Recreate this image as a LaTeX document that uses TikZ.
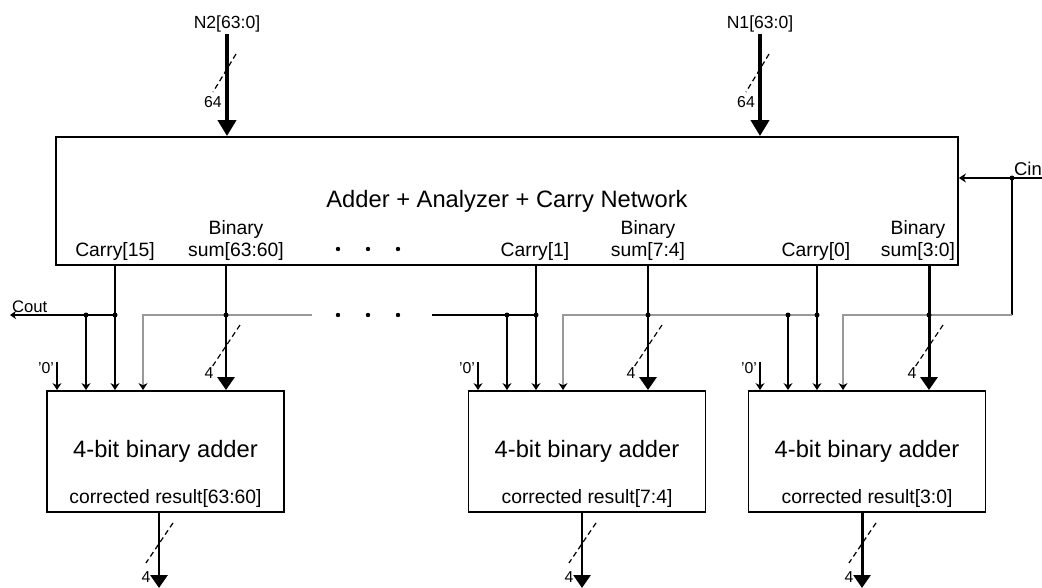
\documentclass[tikz,border=0pt]{standalone}
\usepackage{fontspec}
\setmainfont{Liberation Sans}
\usetikzlibrary{arrows.meta,calc,positioning}

\begin{document}
\begin{tikzpicture}[x=0.02cm,y=-0.02cm,
  unit/.style={draw,line width=1.1pt,minimum width=4.74cm,minimum height=2.42cm,inner sep=0pt,font=\fontsize{13.5}{15}\selectfont},
  arr/.style={-{Stealth[length=1.4mm,width=1.8mm]},line width=1.1pt},
  gry/.style={-{Stealth[length=1.4mm,width=1.8mm,black]},draw=black!40,line width=1.5pt},
  bus/.style={-{Triangle[length=2.6mm,width=3.4mm]},line width=1.7pt},
  wire/.style={line width=1.1pt},
  lab/.style={font=\fontsize{11}{12.5}\selectfont,align=center,inner sep=1pt},
  tiny/.style={font=\fontsize{9}{10}\selectfont,inner sep=1pt},
  wid/.style={line width=0.7pt,dash pattern=on 3pt off 2pt},
  dot/.style={circle,fill,inner sep=0pt,minimum size=1mm}]
  \useasboundingbox (0,0) rectangle (1042,588);

  % analyzer block
  \node[draw,line width=1.1pt,minimum width=18.04cm,minimum height=2.56cm,font=\fontsize{13.5}{15}\selectfont] (main) at (507,201) {Adder + Analyzer + Carry Network};
  \node[lab,anchor=south] (lc15) at (115,263) {Carry[15]};
  \node[lab,anchor=south] (ls15) at (236,263) {Binary\\sum[63:60]};
  \node[lab,anchor=south] (lc1)  at (535,263) {Carry[1]};
  \node[lab,anchor=south] (ls1)  at (648,263) {Binary\\sum[7:4]};
  \node[lab,anchor=south] (lc0)  at (816,263) {Carry[0]};
  \node[lab,anchor=south] (ls0)  at (918,263) {Binary\\sum[3:0]};
  \foreach \x in {338,368,398} {
    \fill (\x,249) circle (2.2);
    \fill (\x,315) circle (2.2);
  }

  % operands
  \node[font=\fontsize{10}{12}\selectfont,inner sep=1pt] (n2) at (227,24) {N2[63:0]};
  \node[font=\fontsize{10}{12}\selectfont,inner sep=1pt] (n1) at (760,24) {N1[63:0]};
  \foreach \n in {n2,n1} {
    \draw[-{Triangle[length=3.2mm,width=3.6mm]},line width=2.3pt] (\n) -- (\n |- main.north);
    \draw[wid] ($(\n |- main.north)+(9,-82)$) -- ($(\n |- main.north)+(-14,-44)$);
    \node[tiny] at ($(\n |- main.north)+(-14,-34)$) {64};
  }

  % 4-bit adders
  \node[unit] (add1) at (165.5,451.5) {4-bit binary adder};
  \node[unit] (add2) at (587,451.5)   {4-bit binary adder};
  \node[unit] (add3) at (867,451.5)   {4-bit binary adder};
  \node[lab,above=2pt of add1.south] {corrected result[63:60]};
  \node[lab,above=2pt of add2.south] {corrected result[7:4]};
  \node[lab,above=2pt of add3.south] {corrected result[3:0]};

  % tap points on the carry line
  \coordinate (cout) at (10,315);
  \coordinate (k15) at (86,315);
  \coordinate (c15) at (115,315);
  \coordinate (gi1) at (143,315);
  \coordinate (s15) at (226,315);
  \coordinate (g14) at (312,315);
  \coordinate (c1w) at (432,315);
  \coordinate (k1)  at (507,315);
  \coordinate (c1)  at (536,315);
  \coordinate (gi2) at (563,315);
  \coordinate (s1)  at (648,315);
  \coordinate (k0)  at (788,315);
  \coordinate (c0)  at (817,315);
  \coordinate (gi3) at (843,315);
  \coordinate (s0)  at (929,315);
  \coordinate (cinb) at (1012,315);
  \coordinate (cinv) at (1012,178);
  \coordinate (cin)  at (1042,178);
  \coordinate (z1) at (57,362);
  \coordinate (z2) at (478,362);
  \coordinate (z3) at (760,362);

  % carries
  \draw[wire,-{Stealth[length=1.2mm,width=1.6mm]}] (c15) -- (cout);
  \node[tiny,font=\fontsize{9.5}{10}\selectfont,anchor=south west] at (cout) {Cout};
  \draw[arr] (main.south -| c15) -- (c15 |- add1.north);
  \draw[arr] (k15) -- (k15 |- add1.north);
  \draw[gry] (g14) -| (gi1 |- add1.north);
  \draw[wire] (c1) -- (c1w);
  \draw[arr] (main.south -| c1) -- (c1 |- add2.north);
  \draw[arr] (k1) -- (k1 |- add2.north);
  \draw[gry] (c0) -| (gi2 |- add2.north);
  \draw[arr] (main.south -| c0) -- (c0 |- add3.north);
  \draw[arr] (k0) -- (k0 |- add3.north);
  \draw[arr] (cin) -- (cin -| main.east);
  \node[lab,font=\fontsize{10.5}{12}\selectfont,anchor=south west] at (cinv) {Cin};
  \draw[wire] (cinv) -- (cinb);
  \draw[gry] (cinb) -| (gi3 |- add3.north);
  \foreach \p in {k15,c15,k1,c1,k0,c0,s15,s1,s0,cinv} \node[dot] at (\p) {};

  % constant inputs
  \foreach \z/\b in {z1/add1,z2/add2,z3/add3} {
    \draw[arr] (\z) -- (\z |- \b.north);
    \node[tiny,anchor=north east] at ($(\z)+(-1,-2)$) {'0'};
  }

  % sums in, results out
  \foreach \s/\b/\o in {s15/add1/159,s1/add2/582,s0/add3/862} {
    \draw[bus] (main.south -| \s) -- (\s |- \b.north);
    \draw[wid] ($(\s)+(14,10)$) -- ($(\s)+(-14,52)$);
    \node[tiny] at ($(\s)+(-17,58)$) {4};
    \coordinate (out) at (\o,588);
    \draw[bus] (\b.south -| out) -- (out);
    \draw[wid] ($(\b.south -| out)+(14,10)$) -- ($(\b.south -| out)+(-13,50)$);
    \node[tiny] at ($(\b.south -| out)+(-13,64)$) {4};
  }
\end{tikzpicture}
\end{document}
